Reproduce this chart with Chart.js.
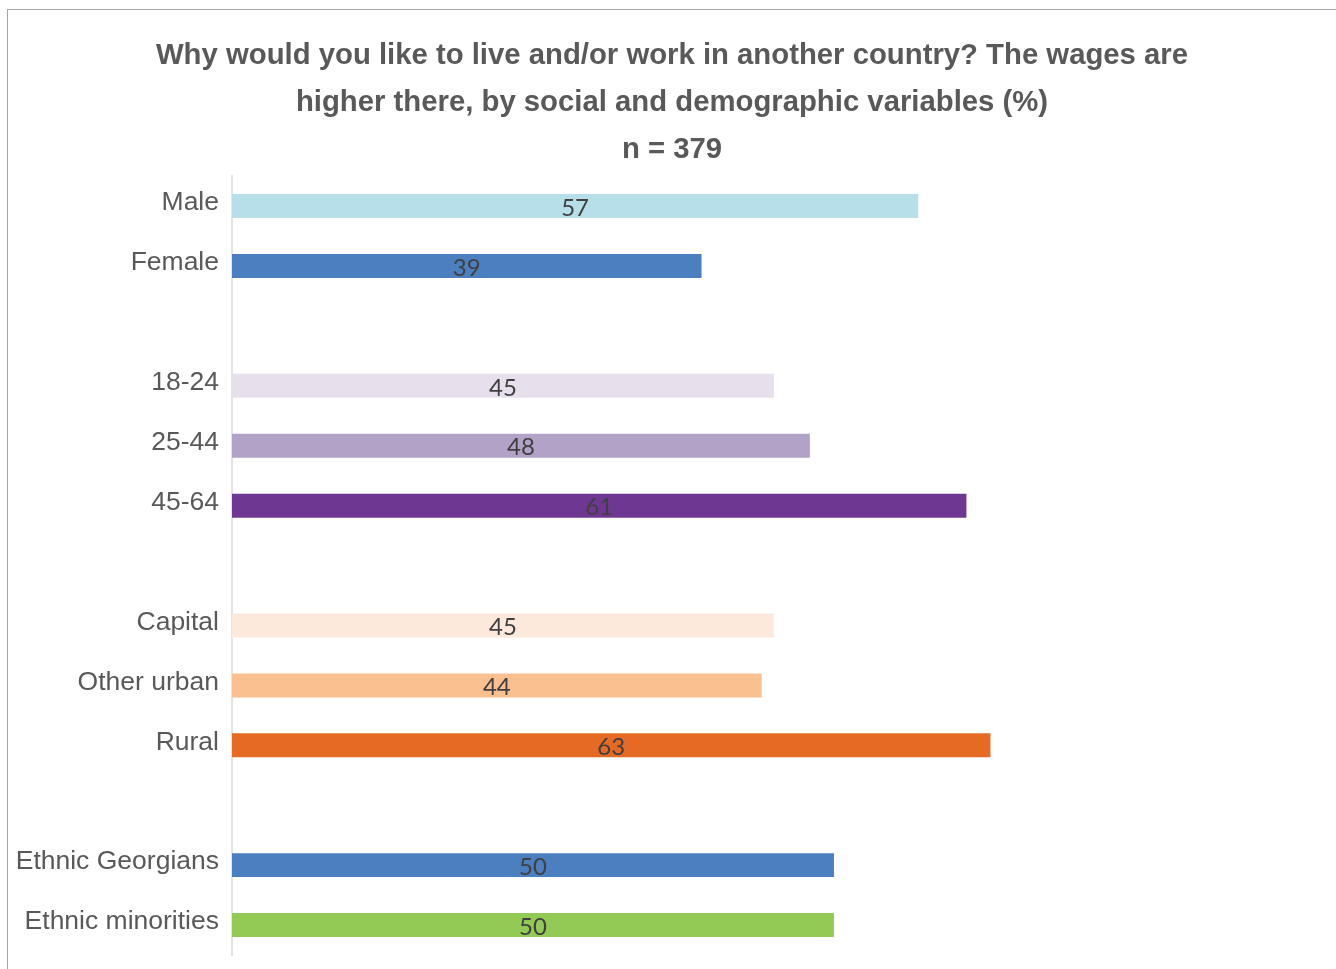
<!DOCTYPE html>
<html>
<head>
<meta charset="utf-8">
<script src="https://cdn.jsdelivr.net/npm/chart.js@4.4.1/dist/chart.umd.min.js"></script>
<style>
    body { margin: 0; background: #fff; overflow: hidden; }
    .frame {
        position: absolute;
        left: 7px;
        top: 9px;
        width: 1328px;
        height: 980px;
        border: 1px solid #a6a6a6;
    }
</style>
</head>
<body>
<div class="frame">
    <canvas id="wagesChart" width="1328" height="980"></canvas>
</div>
<script>
// empty strings leave a gap between groups
const groups = ["Male", "Female", "", "18-24", "25-44", "45-64", "", "Capital", "Other urban", "Rural", "", "Ethnic Georgians", "Ethnic minorities"]
const shares = [57, 39, null, 45, 48, 61, null, 45, 44, 63, null, 50, 50]
const barColors = ["#b7dfea", "#4b7fbf", null, "#e7dfec", "#b3a2c8", "#6e3892", null, "#fce9dc", "#fbc08f", "#e56b24", null, "#4b7fbf", "#93c955"]

const titleLines = [
    "Why would you like to live and/or work in another country? The wages are",
    "higher there, by social and demographic variables (%)",
    "n = 379"
]

// writes the value in the middle of each bar
const valueLabels = {
    id: "valueLabels",
    afterDatasetsDraw(chart) {
        const ctx = chart.ctx
        const meta = chart.getDatasetMeta(0)
        ctx.save()
        ctx.font = "24px Lato, 'Open Sans', sans-serif"
        ctx.fillStyle = "#404040"
        ctx.textAlign = "center"
        ctx.textBaseline = "middle"
        meta.data.forEach((bar, i) => {
            const v = shares[i]
            if (v === null) return
            ctx.fillText(String(v), (bar.x + bar.base) / 2, bar.y + 2)
        })
        ctx.restore()
    }
}

new Chart(document.getElementById("wagesChart"), {
    type: "bar",
    data: {
        labels: groups,
        datasets: [{
            data: shares,
            backgroundColor: barColors,
            barPercentage: 0.4,
            categoryPercentage: 1
        }]
    },
    options: {
        indexAxis: "y",
        responsive: false,
        animation: false,
        layout: {
            padding: { left: 0, right: 0, top: 0, bottom: 35 }
        },
        plugins: {
            legend: { display: false },
            tooltip: { enabled: false },
            title: {
                display: true,
                text: titleLines,
                color: "#595959",
                font: { family: "'Liberation Sans', Arial, sans-serif", size: 29.3, weight: "bold", lineHeight: 1.6 },
                padding: { top: 22.5, bottom: 3 }
            }
        },
        scales: {
            x: {
                display: false,
                min: 0,
                max: 91.7
            },
            y: {
                afterFit: (scale) => { scale.width = 224 },
                grid: { display: false, drawTicks: false },
                border: { display: true, color: "#e3e3e3", width: 2 },
                ticks: {
                    color: "#595959",
                    padding: 13,
                    labelOffset: -3,
                    font: { family: "'Liberation Sans', Arial, sans-serif", size: 26.5 }
                }
            }
        }
    },
    plugins: [valueLabels]
})
</script>
</body>
</html>
